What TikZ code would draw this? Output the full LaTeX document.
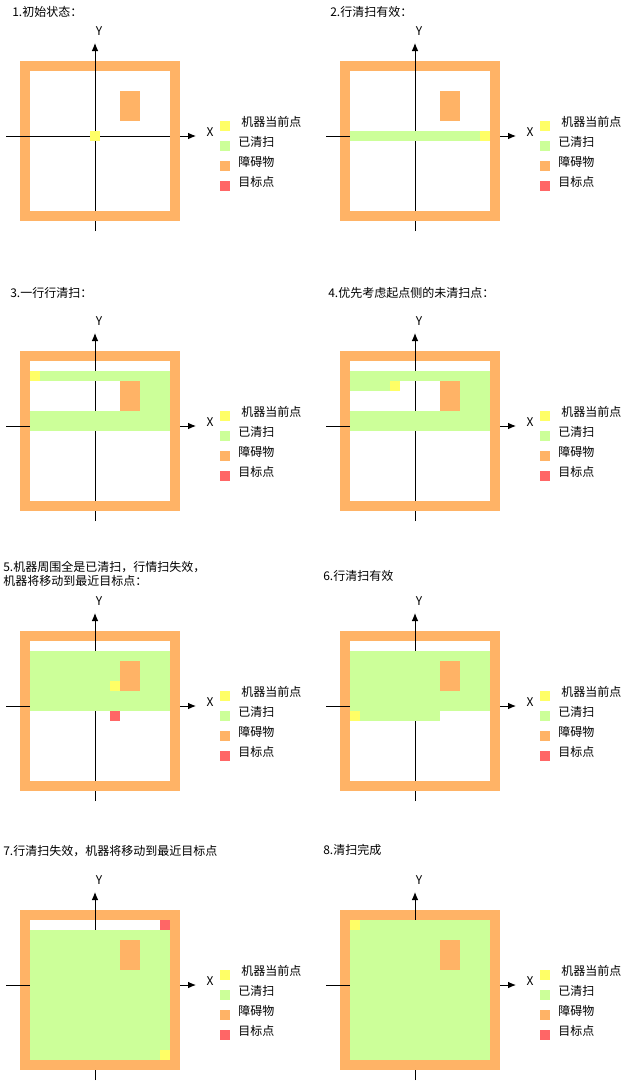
\documentclass[tikz,border=0pt]{standalone}
\usepackage{fontspec}
\setmainfont{Noto Sans CJK SC}
\usepackage{xcolor}
\usetikzlibrary{arrows, arrows.meta}

\definecolor{wallc}{HTML}{FFB366}
\definecolor{cleanc}{HTML}{CCFF99}
\definecolor{robotc}{HTML}{FFFF66}
\definecolor{targetc}{HTML}{FF6666}

% cells c1..c2, r1..r2 of the 14x14 room
\newcommand{\cellblock}[5]{\fill[#5] (30+10*#1,71+10*#2) rectangle (40+10*#3,81+10*#4);}

\begin{document}
\begin{tikzpicture}[x=0.75pt, y=-0.75pt, font=\fontsize{9}{10.5}\selectfont,
    wall/.style={fill=wallc}, clean/.style={fill=cleanc},
    robot/.style={fill=robotc}, goal/.style={fill=targetc},
    axis/.style={line width=0.75pt, -{Latex[length=6pt,width=5pt]}},
    legendkey/.style={minimum size=7.5pt, inner sep=0pt},
    legendtag/.style={anchor=west, inner sep=0pt}]
    \useasboundingbox (0,0) rectangle (631,1089);

    \node[anchor=west, inner sep=0pt] (t1) at (12,12) {1.初始状态：};
    \node[anchor=west, inner sep=0pt] (t2) at (330,12) {2.行清扫有效：};
    \node[anchor=west, inner sep=0pt] (t3) at (10,293) {3.一行行清扫：};
    \node[anchor=west, inner sep=0pt] (t4) at (328,293) {4.优先考虑起点侧的未清扫点：};
    \node[anchor=north west, inner sep=0pt, align=left] (t5) at (3,561) {5.机器周围全是已清扫，行情扫失效，\\机器将移动到最近目标点：};
    \node[anchor=west, inner sep=0pt] (t6) at (323,576) {6.行清扫有效};
    \node[anchor=west, inner sep=0pt] (t7) at (3,851) {7.行清扫失效，机器将移动到最近目标点};
    \node[anchor=west, inner sep=0pt] (t8) at (323,850) {8.清扫完成};

    % room, axes and legend of every step
    \foreach \px/\py/\n in {0/0/a,320/0/b,0/290/c,320/290/d,0/570/e,320/570/f,0/849/g,320/849/h} {
    \begin{scope}[shift={(\px,\py)}]
        \fill[wall] (20,61) rectangle (180,71);
        \fill[wall] (20,71) rectangle (30,221);
        \coordinate (yb\n) at (95,231);
        \coordinate (yt\n) at (95,43);
        \coordinate (xb\n) at (6,136);
        \coordinate (xt\n) at (196,136);
        \draw[axis] (yb\n) -- (yt\n);
        \draw[axis] (xb\n) -- (xt\n);
        \node (ylab\n) at (99,31) {Y};
        \node (xlab\n) at (210,132) {X};
        \fill[wall] (170,61) rectangle (180,221);
        \fill[wall] (20,211) rectangle (180,221);

        \node[legendkey, fill=robotc] (ka\n) at (225,126) {};
        \node[legendkey, fill=cleanc] (kb\n) at (225,146) {};
        \node[legendkey, fill=wallc] (kc\n) at (225,166) {};
        \node[legendkey, fill=targetc] (kd\n) at (225,186) {};
        \node[legendtag] (la\n) at (241,122) {机器当前点};
        \node[legendtag] (lb\n) at (238,142) {已清扫};
        \node[legendtag] (lc\n) at (238,162) {障碍物};
        \node[legendtag] (ld\n) at (238,182) {目标点};
    \end{scope}
    }

    % 1
    \begin{scope}[shift={(0,0)}]
        \cellblock{6}{6}{6}{6}{robot}
    \end{scope}
    % 2
    \begin{scope}[shift={(320,0)}]
        \cellblock{0}{6}{12}{6}{clean}
        \cellblock{13}{6}{13}{6}{robot}
    \end{scope}
    % 3
    \begin{scope}[shift={(0,290)}]
        \cellblock{0}{1}{13}{1}{clean}
        \cellblock{11}{2}{13}{4}{clean}
        \cellblock{0}{5}{13}{6}{clean}
        \cellblock{0}{1}{0}{1}{robot}
    \end{scope}
    % 4
    \begin{scope}[shift={(320,290)}]
        \cellblock{0}{1}{13}{1}{clean}
        \cellblock{0}{2}{3}{2}{clean}
        \cellblock{11}{2}{13}{4}{clean}
        \cellblock{0}{5}{13}{6}{clean}
        \cellblock{4}{2}{4}{2}{robot}
    \end{scope}
    % 5
    \begin{scope}[shift={(0,570)}]
        \cellblock{0}{1}{13}{6}{clean}
        \cellblock{8}{4}{8}{4}{robot}
        \cellblock{8}{7}{8}{7}{goal}
    \end{scope}
    % 6
    \begin{scope}[shift={(320,570)}]
        \cellblock{0}{1}{13}{6}{clean}
        \cellblock{1}{7}{8}{7}{clean}
        \cellblock{0}{7}{0}{7}{robot}
    \end{scope}
    % 7
    \begin{scope}[shift={(0,849)}]
        \cellblock{0}{1}{13}{13}{clean}
        \cellblock{13}{0}{13}{0}{goal}
        \cellblock{13}{13}{13}{13}{robot}
    \end{scope}
    % 8
    \begin{scope}[shift={(320,849)}]
        \cellblock{0}{0}{13}{13}{clean}
        \cellblock{0}{0}{0}{0}{robot}
    \end{scope}

    % obstacle
    \foreach \px/\py in {0/0,320/0,0/290,320/290,0/570,320/570,0/849,320/849}
        \fill[wall, shift={(\px,\py)}] (120,91) rectangle (140,121);

\end{tikzpicture}
\end{document}
